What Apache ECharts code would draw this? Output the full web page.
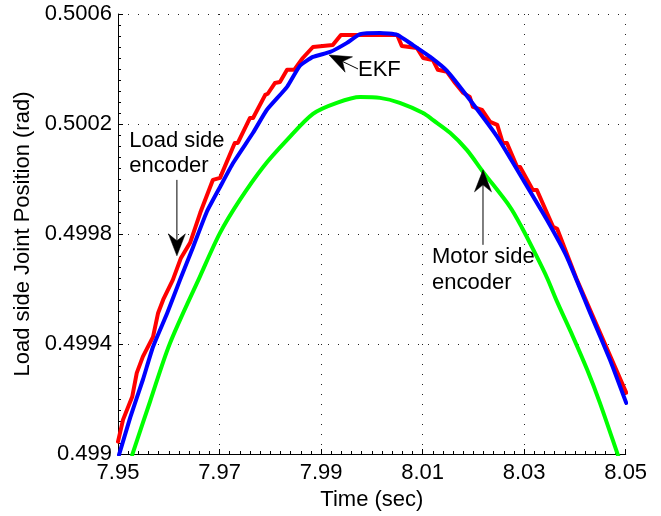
<!DOCTYPE html>
<html>
<head>
<meta charset="utf-8">
<script src="https://cdn.jsdelivr.net/npm/echarts@6/dist/echarts.min.js"></script>
<style>
html,body{margin:0;padding:0;background:#fff;}
#main{width:661px;height:516px;}
</style>
</head>
<body>
<div id="main"></div>
<script>
// ---- data ----
const xTicks = [7.95, 7.97, 7.99, 8.01, 8.03, 8.05];
const yTicks = [0.499, 0.4994, 0.4998, 0.5002, 0.5006];

// Load side encoder (red)
const tLoad = [7.9500, 7.9510, 7.9528, 7.9537, 7.9549, 7.9569, 7.9579, 7.9589, 7.9608, 7.9624,
  7.9642, 7.9662, 7.9687, 7.9701, 7.9730, 7.9736, 7.9760, 7.9766, 7.9790, 7.9795,
  7.9809, 7.9819, 7.9833, 7.9847, 7.9864, 7.9884, 7.9923, 7.9939, 8.0050, 8.0059,
  8.0089, 8.0101, 8.0120, 8.0130, 8.0148, 8.0164, 8.0180, 8.0193, 8.0199, 8.0217,
  8.0233, 8.0247, 8.0258, 8.0266, 8.0286, 8.0292, 8.0317, 8.0325, 8.0357, 8.0365,
  8.0404, 8.0501];
const vLoad = [0.499045, 0.499125, 0.499208, 0.499295, 0.499354, 0.499426, 0.499513, 0.499561, 0.499633, 0.499713,
  0.499768, 0.499877, 0.499997, 0.500004, 0.500131, 0.500131, 0.500222, 0.500222, 0.500306, 0.500310,
  0.500349, 0.500353, 0.500397, 0.500397, 0.500440, 0.500480, 0.500487, 0.500524, 0.500524, 0.500484,
  0.500476, 0.500440, 0.500433, 0.500397, 0.500390, 0.500349, 0.500313, 0.500298, 0.500262, 0.500251,
  0.500208, 0.500197, 0.500131, 0.500131, 0.500044, 0.500044, 0.499960, 0.499960, 0.499826, 0.499819,
  0.499633, 0.499223];

// EKF (blue)
const tEkf = [7.9502, 7.9524, 7.9549, 7.9569, 7.9597, 7.9622, 7.9648, 7.9675, 7.9701, 7.9727,
  7.9766, 7.9793, 7.9833, 7.9858, 7.9884, 7.9918, 7.9951, 7.9977, 8.0016, 8.0050,
  8.0081, 8.0115, 8.0148, 8.0193, 8.0247, 8.0298, 8.0345, 8.0384, 8.0430, 8.0469,
  8.0501];
const vEkf = [0.498997, 0.499132, 0.499270, 0.499390, 0.499513, 0.499633, 0.499753, 0.499881, 0.499971, 0.500059,
  0.500168, 0.500251, 0.500335, 0.500411, 0.500444, 0.500462, 0.500495, 0.500527, 0.500531, 0.500524,
  0.500487, 0.500444, 0.500393, 0.500288, 0.500153, 0.499997, 0.499851, 0.499717, 0.499513, 0.499343,
  0.499186];

// Motor side encoder (green)
const tMotor = [7.9528, 7.9563, 7.9602, 7.9662, 7.9701, 7.9740, 7.9786, 7.9833, 7.9884, 7.9931,
  7.9977, 8.0016, 8.0055, 8.0101, 8.0120, 8.0154, 8.0187, 8.0219, 8.0272, 8.0296,
  8.0321, 8.0345, 8.0365, 8.0396, 8.0424, 8.0449, 8.0483, 8.0493];
const vMotor = [0.498997, 0.499190, 0.499401, 0.499648, 0.499804, 0.499924, 0.500044, 0.500142, 0.500237, 0.500277,
  0.500298, 0.500295, 0.500277, 0.500240, 0.500215, 0.500168, 0.500106, 0.500026, 0.499899, 0.499822,
  0.499732, 0.499641, 0.499553, 0.499427, 0.499307, 0.499187, 0.499005, 0.498950];

// annotations (data coordinates)
const annoText = ['Load side\nencoder', 'EKF', 'Motor side\nencoder'];
const annoT = [7.9522, 7.99727, 8.01185];
const annoV = [0.5001386, 0.5003984, 0.4997152];
const arrowFromT = [7.9616, 7.99727, 8.02189];
const arrowFromV = [0.4999968, 0.5004002, 0.4997606];
const arrowToT = [7.9616, 7.99156, 8.02189];
const arrowToV = [0.4997206, 0.5004511, 0.5000332];

// ---- chart ----
const FONT = '"Liberation Sans", Arial, Helvetica, sans-serif';
const FS = 22;
const chart = echarts.init(document.getElementById('main'), null, {renderer: 'canvas'});
const zip = (t, v) => t.map((x, i) => [x, v[i]]);
const gridLine = {show: true, lineStyle: {color: '#222', width: 1, type: [1, 9]}};

chart.setOption({
  animation: false,
  backgroundColor: '#fff',
  grid: {left: 118, right: 35.3, top: 14, bottom: 62, containLabel: false, outerBoundsMode: 'none'},
  xAxis: {
    type: 'value', min: xTicks[0], max: xTicks[xTicks.length - 1], interval: 0.02,
    name: 'Time (sec)', nameLocation: 'middle', nameGap: 32,
    nameTextStyle: {fontFamily: FONT, fontSize: FS, color: '#000'},
    axisLine: {show: true, onZero: false, lineStyle: {color: '#000', width: 1}},
    axisTick: {show: true, inside: true, length: 5, lineStyle: {color: '#000'}},
    minorTick: {show: true, splitNumber: 10, length: 3, lineStyle: {color: '#000'}},
    axisLabel: {fontFamily: FONT, fontSize: FS, color: '#000', margin: 8,
      formatter: v => String(parseFloat(v.toFixed(2)))},
    splitLine: gridLine
  },
  yAxis: {
    type: 'value', min: yTicks[0], max: yTicks[yTicks.length - 1], interval: 0.0004,
    name: 'Load side Joint Position (rad)', nameLocation: 'middle', nameGap: 84,
    nameTextStyle: {fontFamily: FONT, fontSize: FS, color: '#000'},
    axisLine: {show: true, onZero: false, lineStyle: {color: '#000', width: 1}},
    axisTick: {show: true, inside: true, length: 5, lineStyle: {color: '#000'}},
    minorTick: {show: true, splitNumber: 10, length: 3, lineStyle: {color: '#000'}},
    axisLabel: {fontFamily: FONT, fontSize: FS, color: '#000', margin: 6,
      formatter: v => String(parseFloat(v.toFixed(4)))},
    splitLine: gridLine
  },
  series: [
    {name: 'Load side encoder', type: 'line', data: zip(tLoad, vLoad), showSymbol: false, clip: true,
      lineStyle: {color: '#ff0000', width: 4, join: 'round', cap: 'round'}, itemStyle: {color: '#ff0000'}},
    {name: 'EKF', type: 'line', data: zip(tEkf, vEkf), showSymbol: false, clip: true, smooth: 0.15,
      lineStyle: {color: '#0000ff', width: 4, join: 'round', cap: 'round'}, itemStyle: {color: '#0000ff'}},
    {name: 'Motor side encoder', type: 'line', data: zip(tMotor, vMotor), showSymbol: false, clip: true, smooth: 0.3,
      lineStyle: {color: '#00ff00', width: 4, join: 'round', cap: 'round'}, itemStyle: {color: '#00ff00'}}
  ]
});

// annotations placed through the chart's own coordinate conversion
const px = (t, v) => chart.convertToPixel({gridIndex: 0}, [t, v]);
const graphics = [];
const LH = 25.5;
annoText.forEach((txt, i) => {
  const p = px(annoT[i], annoV[i]);
  graphics.push({type: 'text', x: p[0], y: p[1] - LH / 2, z: 100,
    style: {text: txt, font: FS + 'px ' + FONT, fill: '#000', align: 'left', verticalAlign: 'top', lineHeight: LH}});
});
for (let i = 0; i < arrowFromT.length; i++) {
  const a = px(arrowFromT[i], arrowFromV[i]);
  const b = px(arrowToT[i], arrowToV[i]);
  const dx = b[0] - a[0], dy = b[1] - a[1];
  const len = Math.hypot(dx, dy);
  const ux = dx / len, uy = dy / len;
  const nx = -uy, ny = ux;
  const L = 22, W = 8.5, N = 15;
  graphics.push({type: 'line', z: 100,
    shape: {x1: a[0], y1: a[1], x2: b[0] - ux * N, y2: b[1] - uy * N},
    style: {stroke: '#000', lineWidth: 1}});
  graphics.push({type: 'polygon', z: 100,
    shape: {points: [
      [b[0], b[1]],
      [b[0] - ux * L + nx * W, b[1] - uy * L + ny * W],
      [b[0] - ux * N, b[1] - uy * N],
      [b[0] - ux * L - nx * W, b[1] - uy * L - ny * W]
    ]},
    style: {fill: '#000', stroke: '#000', lineWidth: 0.5}});
}
chart.setOption({graphic: graphics});
</script>
</body>
</html>
